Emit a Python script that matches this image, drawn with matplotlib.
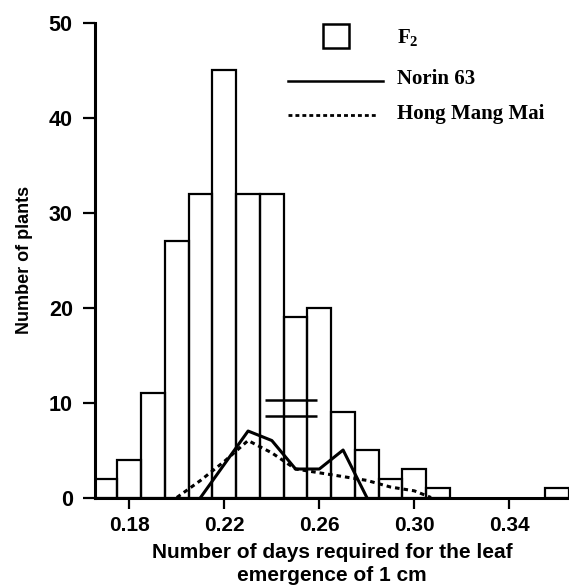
import matplotlib.pyplot as plt
from matplotlib.lines import Line2D
from matplotlib.patches import Rectangle

plt.rcParams["font.family"] = ["Liberation Sans", "DejaVu Sans"]
plt.rcParams["mathtext.fontset"] = "custom"
plt.rcParams["mathtext.rm"] = "Liberation Serif"
plt.rcParams["mathtext.bf"] = "Liberation Serif:bold"

# F2 histogram (bin centres, 0.01 wide)
f2_bins = [0.17, 0.18, 0.19, 0.20, 0.21, 0.22, 0.23, 0.24, 0.25, 0.26,
           0.27, 0.28, 0.29, 0.30, 0.31, 0.36]
f2_counts = [2, 4, 11, 27, 32, 45, 32, 32, 19, 20, 9, 5, 2, 3, 1, 1]

# parents
norin_x = [0.21, 0.23, 0.24, 0.25, 0.26, 0.27, 0.28]
norin_y = [0, 7, 6, 3, 3, 5, 0]

hmm_x = [0.20, 0.21, 0.22, 0.23, 0.24, 0.25, 0.26, 0.27, 0.28, 0.29, 0.30, 0.307]
hmm_y = [0, 1.8, 3.8, 6.0, 4.7, 3.0, 2.6, 2.2, 1.8, 1.1, 0.7, 0]

# the two short horizontal marks
mark_y = [10.3, 8.6]
mark_x = (0.237, 0.259)

W, H = 569, 588
fig = plt.figure(figsize=(W / 100, H / 100), dpi=100)
ax = fig.add_axes([95 / W, (H - 497.5) / H, 1 - 95 / W, (497.5 - 22.7) / H])

ax.bar(f2_bins, f2_counts, width=0.01, fill=False, edgecolor="black",
       linewidth=1.6, zorder=2)
ax.plot(norin_x, norin_y, color="black", linewidth=2.2, zorder=3)
ax.plot(hmm_x, hmm_y, color="black", linewidth=2.2,
        linestyle=(0, (1.5, 1.3)), zorder=3)
ax.hlines(mark_y, mark_x[0], mark_x[1], color="black", linewidth=1.8, zorder=3)

ax.set_xlim(0.16556, 0.3651)
ax.set_ylim(0, 50)
ax.set_xticks([0.18, 0.22, 0.26, 0.30, 0.34])
ax.set_xticklabels(["0.18", "0.22", "0.26", "0.30", "0.34"])
ax.set_yticks([0, 10, 20, 30, 40, 50])

for side in ["top", "right"]:
    ax.spines[side].set_visible(False)
for side in ["left", "bottom"]:
    ax.spines[side].set_linewidth(2.2)
    ax.spines[side].set_zorder(4)

ax.tick_params(axis="y", direction="out", length=9, width=1.6,
               labelsize=15.5, pad=7)
ax.tick_params(axis="x", direction="out", length=8, width=1.6,
               labelsize=15, pad=5)
for lab in ax.get_xticklabels() + ax.get_yticklabels():
    lab.set_fontweight("bold")

ax.set_ylabel("Number of plants", fontsize=13, fontweight="bold",
              labelpad=11)
ax.set_xlabel("Number of days required for the leaf\nemergence of 1 cm",
              fontsize=15, fontweight="bold", linespacing=1.3, labelpad=6)


# legend drawn by hand, positions in pixels of the 569x588 picture
def fx(x):
    return x / W


def fy(y):
    return 1 - y / H


fig.patches.append(Rectangle((fx(323.3), fy(48.3)), fx(349.3) - fx(323.3),
                             fy(24) - fy(48.3), fill=False, edgecolor="black",
                             linewidth=1.8, transform=fig.transFigure))
fig.lines.append(Line2D([fx(288), fx(383)], [fy(81), fy(81)], color="black",
                        linewidth=1.8, transform=fig.transFigure))
fig.lines.append(Line2D([fx(288), fx(378)], [fy(115), fy(115)], color="black",
                        linewidth=2.0, linestyle=(0, (1.4, 1.1)),
                        transform=fig.transFigure))

legend_font = dict(family="Liberation Serif", fontweight="bold", fontsize=15,
                   va="center", ha="left")
fig.text(fx(397), fy(38), r"$\mathbf{F}_{\mathbf{2}}$", **legend_font)
fig.text(fx(397), fy(79), "Norin 63", **legend_font)
fig.text(fx(397), fy(114), "Hong Mang Mai", **legend_font)

fig.savefig("out.png", dpi=100)
